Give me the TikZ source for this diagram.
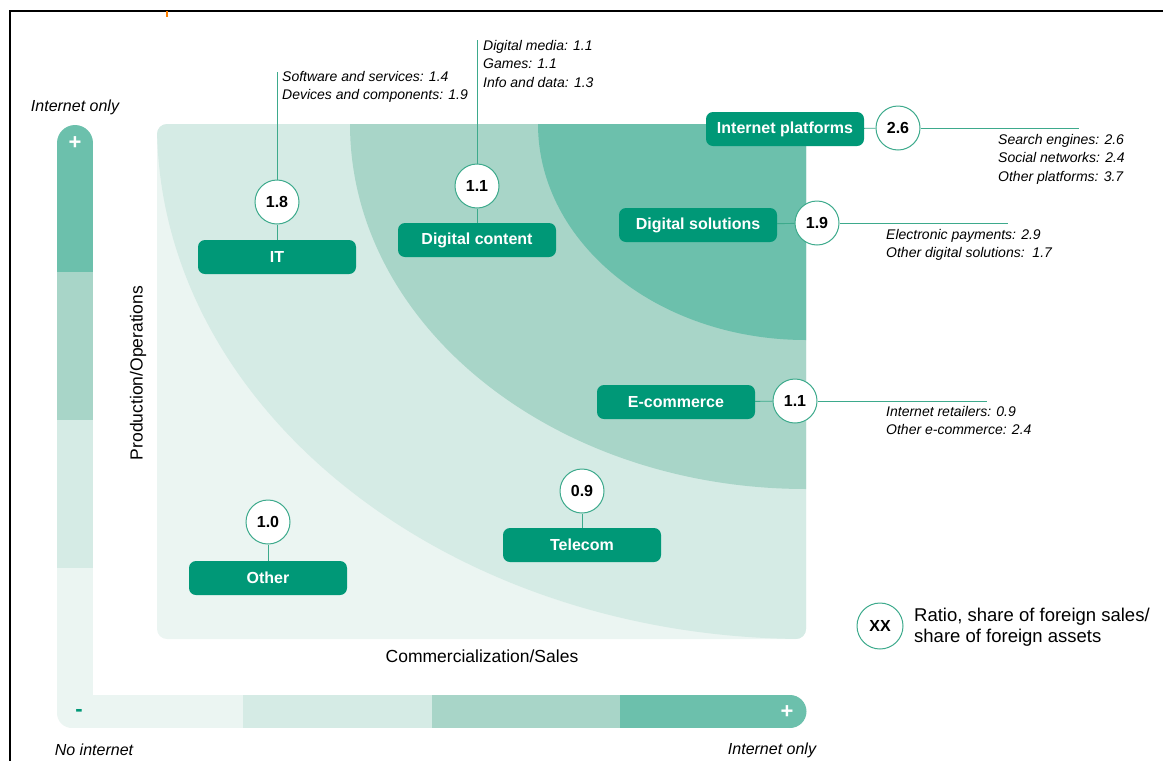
\documentclass[tikz,border=0pt]{standalone}
\usepackage{fontspec}
\setmainfont{Liberation Sans}
\usepackage{xcolor}
\definecolor{band-one}{HTML}{EBF5F2}
\definecolor{band-two}{HTML}{D5EBE5}
\definecolor{band-three}{HTML}{A8D5C8}
\definecolor{band-four}{HTML}{6CC0AC}
\definecolor{box-green}{HTML}{009877}
\definecolor{line-green}{HTML}{3DAA8C}
\tikzset{
    sector-box/.style = {fill=box-green, text=white, rounded corners=7pt, minimum width=158pt, minimum height=34pt, inner sep=0pt, font=\fontsize{16}{19}\selectfont\bfseries},
    ratio-circle/.style = {circle, draw=line-green, fill=white, line width=1pt, minimum size=44pt, inner sep=0pt, font=\fontsize{16}{19}\selectfont\bfseries},
    detail-text/.style = {anchor=north west, align=left, inner sep=0pt, font=\fontsize{14}{18.5}\selectfont\itshape},
    link-line/.style = {draw=line-green, line width=0.9pt},
    axis-label/.style = {font=\fontsize{17.5}{21}\selectfont},
    end-label/.style = {font=\fontsize{16}{19}\selectfont\itshape},
}

\begin{document}
\begin{tikzpicture}[x=1pt, y=-1pt]
\useasboundingbox (0,0) rectangle (1163,761);
% frame
\draw[line width=2pt] (10,761) -- (10,11) -- (1163,11);
\draw[orange, line width=1.5pt] (167,11) -- (167,17);

% panel with bands
\fill[band-one, rounded corners=10pt] (157,124) rectangle (806,639);
\begin{scope}
    \clip[rounded corners=10pt] (157,124) rectangle (806,639);
    \fill[band-two] (806,124) ellipse [x radius=649, y radius=515];
    \fill[band-three] (806,124) ellipse [x radius=456, y radius=365];
    \fill[band-four] (806,124) ellipse [x radius=268, y radius=216];
\end{scope}

% axis bars
\fill[band-four] (57,143) rectangle (93,272);
\fill[band-four] (75,143) circle [radius=18];
\fill[band-three] (57,272) rectangle (93,420);
\fill[band-two] (57,420) rectangle (93,568);
\fill[band-one] (57,568) rectangle (93,728);
\fill[band-one] (57,695) rectangle (243,728);
\fill[white] (57,713) rectangle (72,728);
\fill[band-one] (72,713) circle [radius=15];
\fill[band-two] (243,695) rectangle (432,728);
\fill[band-three] (432,695) rectangle (620,728);
\fill[band-four] (620,695) rectangle (790,728);
\fill[band-four] (790,711.5) circle [radius=16.5];
\node[text=white, font=\fontsize{22}{22}\selectfont\bfseries] (top-plus) at (75,143) {+};
\node[text=white, font=\fontsize{22}{22}\selectfont\bfseries] (right-plus) at (787,712) {+};
\node[text=box-green, font=\fontsize{22}{22}\selectfont\bfseries] (left-minus) at (79,713) {-};

% axis labels
\node[axis-label, rotate=90] (prod-label) at (138,373) {Production/Operations};
\node[axis-label] (comm-label) at (482,656) {Commercialization/Sales};
\node[end-label] (top-only) at (75,107) {Internet only};
\node[end-label] (no-internet) at (94,750) {No internet};
\node[end-label] (right-only) at (772,750) {Internet only};

% sectors
\node[sector-box] (it-box) at (277,257) {IT};
\node[ratio-circle] (it-ratio) at (277,202) {1.8};
\coordinate (it-end) at (277,72);
\node[detail-text] (it-detail) at (282,71) {Software and services: 1.4\\Devices and components: 1.9};

\node[sector-box] (content-box) at (477,240) {Digital content};
\node[ratio-circle] (content-ratio) at (477,186) {1.1};
\coordinate (content-end) at (477,40);
\node[detail-text] (content-detail) at (483,40) {Digital media: 1.1\\Games: 1.1\\Info and data: 1.3};

\node[sector-box] (platform-box) at (785,129) {Internet platforms};
\node[ratio-circle] (platform-ratio) at (898,128) {2.6};
\coordinate (platform-end) at (1079,128);
\node[detail-text] (platform-detail) at (998,134) {Search engines: 2.6\\Social networks: 2.4\\Other platforms: 3.7};

\node[sector-box] (solution-box) at (698,225) {Digital solutions};
\node[ratio-circle] (solution-ratio) at (817,223) {1.9};
\coordinate (solution-end) at (1008,223);
\node[detail-text] (solution-detail) at (886,229) {Electronic payments: 2.9\\Other digital solutions:\ \ 1.7};

\node[sector-box] (commerce-box) at (676,402) {E-commerce};
\node[ratio-circle] (commerce-ratio) at (795,401) {1.1};
\coordinate (commerce-end) at (987,401);
\node[detail-text] (commerce-detail) at (886,406) {Internet retailers: 0.9\\Other e-commerce: 2.4};

\node[sector-box] (telecom-box) at (582,545) {Telecom};
\node[ratio-circle] (telecom-ratio) at (582,491) {0.9};

\node[sector-box] (other-box) at (268,578) {Other};
\node[ratio-circle] (other-ratio) at (268,522) {1.0};

\foreach \s in {it, content, platform, solution, commerce, telecom, other}
    \draw[link-line] (\s-box) -- (\s-ratio);
\foreach \s in {it, content, platform, solution, commerce}
    \draw[link-line] (\s-ratio) -- (\s-end);

% legend
\node[ratio-circle, minimum size=46pt] (legend-ratio) at (880,626) {XX};
\node[anchor=west, align=left, inner sep=0pt, font=\fontsize{18.5}{21}\selectfont] (legend-text) at (914,627) {Ratio, share of foreign sales/\\share of foreign assets};
\end{tikzpicture}
\end{document}
